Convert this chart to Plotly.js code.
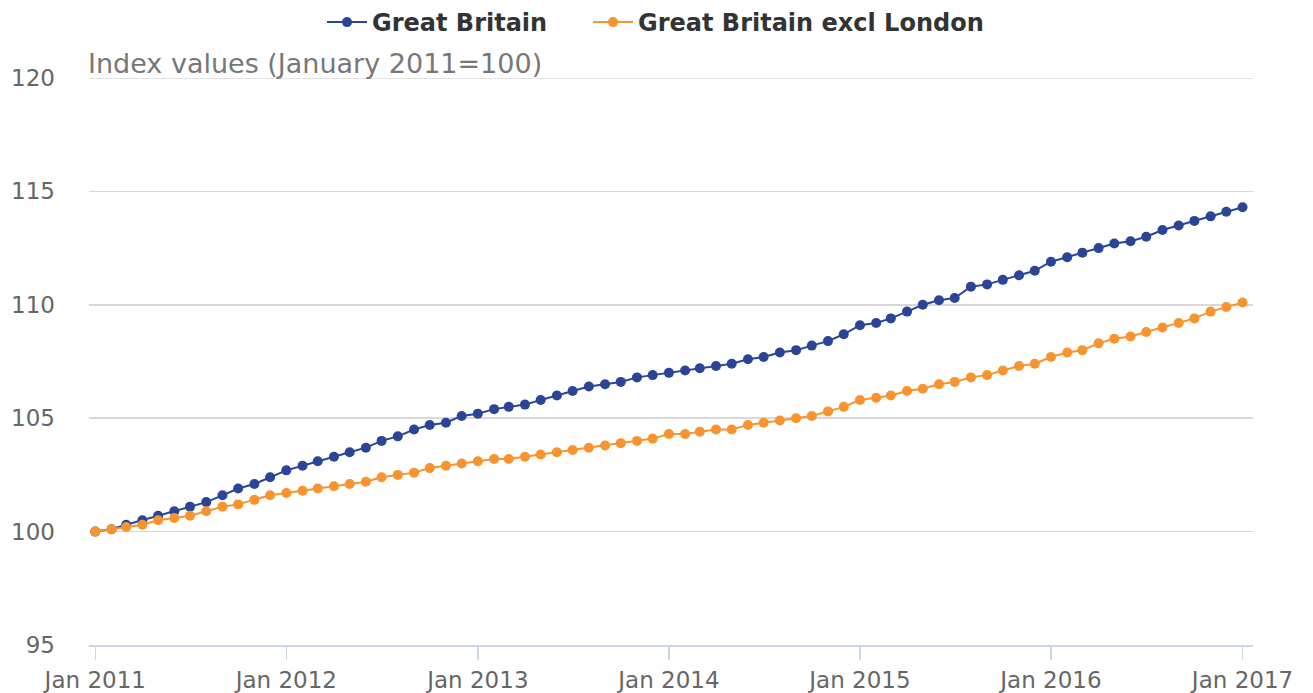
<!DOCTYPE html>
<html><head><meta charset="utf-8">
<script src="https://cdn.plot.ly/plotly-3.0.1.min.js"></script>
<style>html,body{margin:0;padding:0;background:#fff}#chart{width:1313px;height:693px}</style>
</head><body><div id="chart"></div>
<script>
const startYear = 2011, nMonths = 73;
const gbValues = [100,100.1,100.3,100.5,100.7,100.9,101.1,101.3,101.6,101.9,102.1,102.4,
102.7,102.9,103.1,103.3,103.5,103.7,104.0,104.2,104.5,104.7,104.8,105.1,
105.2,105.4,105.5,105.6,105.8,106.0,106.2,106.4,106.5,106.6,106.8,106.9,
107.0,107.1,107.2,107.3,107.4,107.6,107.7,107.9,108.0,108.2,108.4,108.7,
109.1,109.2,109.4,109.7,110.0,110.2,110.3,110.8,110.9,111.1,111.3,111.5,
111.9,112.1,112.3,112.5,112.7,112.8,113.0,113.3,113.5,113.7,113.9,114.1,
114.3];
const gbExLondonValues = [100,100.1,100.2,100.3,100.5,100.6,100.7,100.9,101.1,101.2,101.4,101.6,
101.7,101.8,101.9,102.0,102.1,102.2,102.4,102.5,102.6,102.8,102.9,103.0,
103.1,103.2,103.2,103.3,103.4,103.5,103.6,103.7,103.8,103.9,104.0,104.1,
104.3,104.3,104.4,104.5,104.5,104.7,104.8,104.9,105.0,105.1,105.3,105.5,
105.8,105.9,106.0,106.2,106.3,106.5,106.6,106.8,106.9,107.1,107.3,107.4,
107.7,107.9,108.0,108.3,108.5,108.6,108.8,109.0,109.2,109.4,109.7,109.9,
110.1];
const months = [];
for (let i = 0; i < nMonths; i++) {
  const y = startYear + Math.floor(i / 12), m = (i % 12) + 1;
  months.push(y + '-' + String(m).padStart(2, '0') + '-01');
}
const seriesNames = ['Great Britain', 'Great Britain excl London'];
const yTitle = 'Index values (January 2011=100)';
const FONT = 'DejaVu Sans, sans-serif';
const traces = [
  {x: months, y: gbValues, name: seriesNames[0], type: 'scatter', mode: 'lines+markers',
   line: {color: '#2a4596', width: 2}, marker: {color: '#2a4596', size: 10}, legend: 'legend'},
  {x: months, y: gbExLondonValues, name: seriesNames[1], type: 'scatter', mode: 'lines+markers',
   line: {color: '#f7942f', width: 2}, marker: {color: '#f7942f', size: 10}, legend: 'legend2'}
];
const legendBase = {orientation: 'h', xref: 'container', xanchor: 'left', y: 1.0, yref: 'container', yanchor: 'top',
  font: {family: FONT, size: 24, color: '#333', weight: 'bold'}, itemwidth: 40};
const layout = {
  width: 1313, height: 693,
  margin: {l: 89, r: 60, t: 78, b: 48},
  paper_bgcolor: '#fff', plot_bgcolor: '#fff',
  font: {family: FONT, color: '#666', size: 23},
  showlegend: true,
  legend: Object.assign({}, legendBase, {x: 322 / 1313}),
  legend2: Object.assign({}, legendBase, {x: 588 / 1313}),
  xaxis: {type: 'date', range: ['2010-12-20', '2017-01-21'], tickformat: '%b %Y', dtick: 'M12',
    tick0: '2011-01-01', showgrid: false, zeroline: false, showline: true, linecolor: '#ccd6eb', linewidth: 2,
    ticks: 'outside', ticklen: 13, tickcolor: '#ccd6eb', tickwidth: 1.5,
    tickfont: {family: FONT, size: 23, color: '#666'}},
  yaxis: {range: [95, 120], dtick: 5, tick0: 95, showgrid: true, gridcolor: '#d8d8d8', gridwidth: 1.5,
    zeroline: false, showline: false, ticks: '', ticklabelstandoff: 33,
    tickfont: {family: FONT, size: 23, color: '#666'}},
  shapes: [{type: 'line', xref: 'paper', yref: 'y', x0: 0, x1: 1, y0: 120, y1: 120,
    line: {color: '#d8d8d8', width: 1.5}, layer: 'below'}],
  annotations: [{text: yTitle, xref: 'paper', yref: 'paper', x: 0, y: 1.0, xanchor: 'left', yanchor: 'bottom',
    xshift: -3, yshift: -3, showarrow: false, font: {family: FONT, size: 27, color: '#777'}}]
};
Plotly.newPlot('chart', traces, layout, {displayModeBar: false, staticPlot: true});
</script></body></html>
